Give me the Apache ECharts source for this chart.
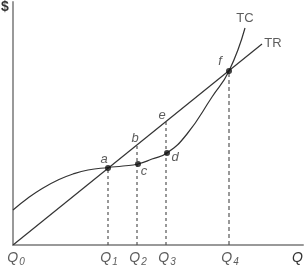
<!DOCTYPE html>
<html><head><meta charset="utf-8">
<script src="https://cdn.jsdelivr.net/npm/echarts@6/dist/echarts.min.js"></script>
<style>html,body{margin:0;padding:0;background:#fff}#c{width:304px;height:268px}</style>
</head><body><div id="c"></div>
<script>
// Data (x: quantity units, y: dollars)
const tcPoints = [[0,35],[15,47],[30,57],[45,65],[60,71],[75,75],[95,77.5],[110,79],[125,81],[139,86],[154,92],[174,111],[199,148],[216,174],[232,217]];
const trPoints = [[0,0],[249,201]];
const qNames = ['Q0','Q1','Q2','Q3','Q4'];
const qValues = [0,95,124,153,216];
const guideTops = [null,77,100,123,174];
const dotNames = ['a','c','d','f'];
const dotPoints = [[95,77],[125,81],[154,92],[216,174]];
const pointNames = ['a','b','c','d','e','f'];

// layout-only: label anchors (data coords)
const pointLabelPos = [[91,86],[122,107],[131,74],[162,88],[149,130],[207,184]];
const curveLabelPos = {TC:[232,227], TR:[260,202]};

const chart = echarts.init(document.getElementById('c'), null, {renderer:'canvas'});
const ink = '#333';
const series = [];
series.push({type:'line', data:tcPoints, smooth:0.5, symbol:'none', lineStyle:{color:ink,width:1.2}, silent:true, z:3});
series.push({type:'line', data:trPoints, symbol:'none', lineStyle:{color:ink,width:1.2}, silent:true, z:3});
for (let i=1;i<qValues.length;i++){
  series.push({type:'line', data:[[qValues[i],0],[qValues[i],guideTops[i]]], symbol:'none',
    lineStyle:{color:'#555',width:1.2,type: i===4?[4,3]:[3,3]}, silent:true, z:2});
}
series.push({type:'scatter', data:dotPoints, symbolSize:6, itemStyle:{color:'#111'}, z:5});
series.push({type:'scatter', symbolSize:0,
  data:pointNames.map((n,i)=>({value:pointLabelPos[i], name:n})),
  label:{show:true, position:'inside', formatter:p=>p.name, fontFamily:'Liberation Sans', fontStyle:'italic', fontSize:13, color:ink}, z:6});
series.push({type:'scatter', symbolSize:0,
  data:Object.keys(curveLabelPos).map(k=>({value:curveLabelPos[k], name:k})),
  label:{show:true, position:'inside', formatter:p=>p.name, fontFamily:'Liberation Sans', fontSize:13, color:ink}, z:6});
series.push({type:'scatter', symbolSize:0, clip:false,
  data:qNames.map((n,i)=>({value:[qValues[i]+(i===0?3:1),0], name:n})),
  label:{show:true, position:'bottom', distance:4,
    formatter:p=>'{q|'+p.name[0]+'}{s|'+p.name.slice(1)+'}',
    rich:{q:{fontFamily:'Liberation Sans', fontStyle:'italic', fontSize:14, color:ink},
          s:{fontFamily:'Liberation Sans', fontStyle:'italic', fontSize:10, color:ink, padding:[8,0,0,1]}}}, z:6});

chart.setOption({
  animation:false,
  grid:{left:13, right:1, top:2, bottom:23},
  xAxis:{type:'value', min:0, max:290, axisLine:{show:true, onZero:false, lineStyle:{color:'#999',width:2}},
    axisTick:{show:false}, axisLabel:{show:false}, splitLine:{show:false}},
  yAxis:{type:'value', min:0, max:243, axisLine:{show:true, onZero:false, lineStyle:{color:'#999',width:2}},
    axisTick:{show:false}, axisLabel:{show:false}, splitLine:{show:false}},
  graphic:[
    {type:'text', left:1, top:0, style:{text:'$', font:'bold 14px "Liberation Sans"', fill:ink}},
    {type:'text', left:292, top:251, style:{text:'Q', font:'italic 14px "Liberation Sans"', fill:ink}}
  ],
  series:series
});
</script></body></html>
